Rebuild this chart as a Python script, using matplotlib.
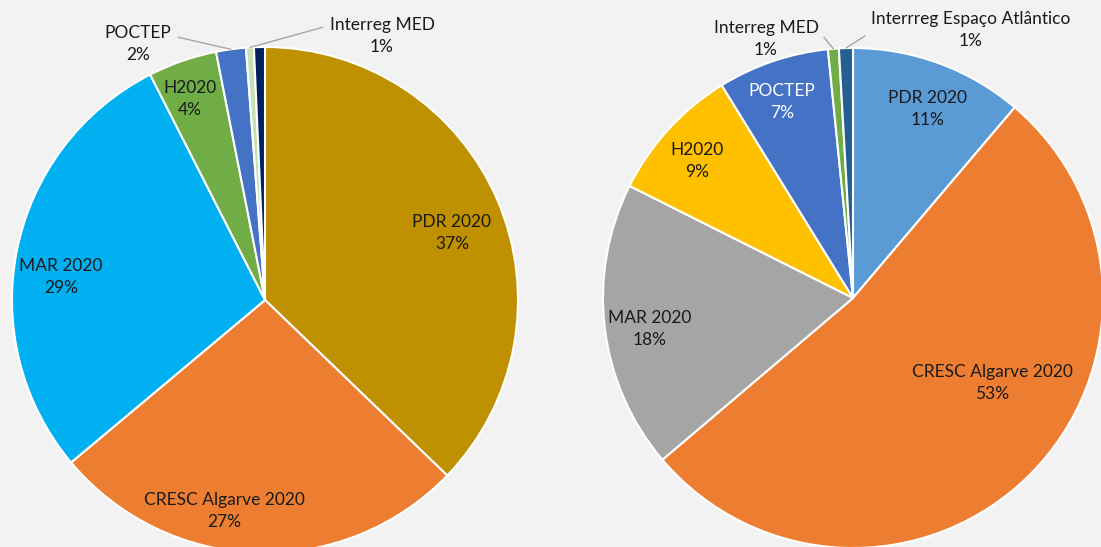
import matplotlib.pyplot as plt
import numpy as np

# left pie
left_names = ['PDR 2020', 'CRESC Algarve 2020', 'MAR 2020', 'H2020', 'POCTEP',
              'Interreg MED', None]
left_values = [37.2, 26.7, 28.6, 4.4, 1.9, 0.5, 0.7]
left_pct = ['37%', '27%', '29%', '4%', '2%', '1%', '']
left_colors = ['#BF9000', '#ED7D31', '#00B0F0', '#70AD47', '#4472C4', '#C5E0B4', '#002060']

# right pie
right_names = ['PDR 2020', 'CRESC Algarve 2020', 'MAR 2020', 'H2020', 'POCTEP',
               'Interreg MED', 'Interrreg Espaço Atlântico']
right_values = [11.2, 52.6, 18.6, 8.8, 7.2, 0.7, 0.9]
right_pct = ['11%', '53%', '18%', '9%', '7%', '1%', '1%']
right_colors = ['#5B9BD5', '#ED7D31', '#A5A5A5', '#FFC000', '#4472C4', '#70AD47', '#255E91']

plt.rcParams['font.family'] = ['Lato', 'DejaVu Sans']
txt_color = '#1a1a1a'
fsize = 12.5
lspace = 1.45

fig = plt.figure(figsize=(11.01, 5.47), dpi=100, facecolor='#F2F2F2')
ax = fig.add_axes([0, 0, 1, 1])
ax.set_facecolor('#F2F2F2')


def draw_pie(values, colors, names, pct, center, radius, label_pos, callouts, white_idx=()):
    wedges, _ = ax.pie(values, colors=colors, startangle=90, counterclock=False,
                       center=center, radius=radius,
                       wedgeprops=dict(edgecolor='white', linewidth=1.5))
    for i, w in enumerate(wedges):
        if names[i] is None:
            continue
        text = names[i] + '\n' + pct[i]
        tx, ty = label_pos[i]
        if i in callouts:
            # leader line from label to outer edge of the slice
            mid = np.deg2rad((w.theta1 + w.theta2) / 2)
            ex = center[0] + radius * np.cos(mid)
            ey = center[1] + radius * np.sin(mid)
            ax.annotate(text, xy=(ex, ey), xytext=(tx, -ty),
                        ha='center', va='center', fontsize=fsize, color=txt_color,
                        linespacing=lspace,
                        arrowprops=dict(arrowstyle='-', color='#A6A6A6', lw=1,
                                        shrinkA=3, shrinkB=0, relpos=callouts[i]))
        else:
            c = 'white' if i in white_idx else txt_color
            ax.text(tx, -ty, text, ha='center', va='center',
                    fontsize=fsize, color=c, linespacing=lspace)


draw_pie(left_values, left_colors, left_names, left_pct, (265, -300), 253,
         [(452, 233), (224, 511), (61, 277), (190, 99), (138, 44), (382, 36), None],
         {4: (1.0, 0.72), 5: (0.0, 0.78)})

draw_pie(right_values, right_colors, right_names, right_pct, (853, -298), 250,
         [(928, 109), (992, 383), (650, 329), (697, 161), (782, 102), (766, 39), (971, 30)],
         {5: (1.0, 0.72), 6: (0.0, 0.45)}, white_idx=(4,))

ax.set_xlim(0, 1101)
ax.set_ylim(-547, 0)
ax.set_aspect('auto')
ax.axis('off')

fig.savefig('out.png', dpi=100, facecolor=fig.get_facecolor())
